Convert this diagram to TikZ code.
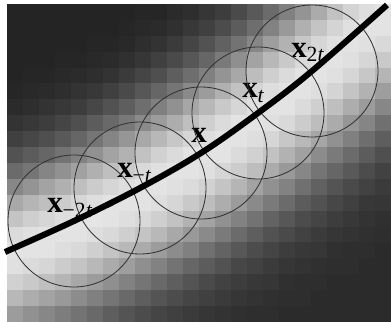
\documentclass[tikz,border=0pt]{standalone}
\usepackage{fontspec}
\setmainfont{Liberation Serif}
\usetikzlibrary{positioning}

\newcommand{\ptlabel}[1]{\textbf{x}\textsubscript{#1}}

\begin{document}
\begin{tikzpicture}[
    x=0.025cm, y=-0.025cm,
    probe/.style={
        draw=black!80, line width=0.6pt
    },
    ridge/.style={
        draw=black, line width=4.3pt, line cap=butt
    },
    lbl/.style={
        inner sep=0pt, anchor=base west, text=black,
        font=\fontsize{22}{24}\selectfont
    }
]
\useasboundingbox (0,0) rectangle (391,322);

% pixelated intensity ridge
\foreach \i in {0,...,23}{
  \foreach \j in {0,...,19}{
    \pgfmathsetmacro\cx{15+16*\i}
    \pgfmathsetmacro\cy{11.95+15.9*\j}
    \pgfmathsetmacro\sl{-0.3484-0.0015214*\cx}
    \pgfmathsetmacro\dd{(\cy-(253.76-0.3484*\cx-(0.0007607*\cx)*\cx))/sqrt(1+\sl*\sl)-5}
    \pgfmathsetmacro\g{\dd<0 ? 0.14+0.76*exp(-0.5*(\dd/55)^2) : 0.17+0.73*exp(-0.5*(\dd/57)^2)}
    \pgfmathtruncatemacro\pct{100*\g}
    \fill[white!\pct!black] (7+16*\i,4+15.9*\j) rectangle ++(16.4,16.3);
  }
}

\coordinate (s)   at (5,252);
\coordinate (pm2) at (74,221);
\coordinate (pm1) at (140,188);
\coordinate (p0)  at (201,153);
\coordinate (p1)  at (258,113);
\coordinate (p2)  at (312,71);
\coordinate (e)   at (387,5);

\node[lbl] (lm2) at (47,213) {\ptlabel{−2\textit{t}}};
\node[lbl] (lm1) at (117,178) {\ptlabel{−\textit{t}}};
\node[lbl] (l0)  at (191,143) {\textbf{x}};
\node[lbl] (l1)  at (242,98)  {\ptlabel{\textit{t}}};
\node[lbl] (l2)  at (291,57)  {\ptlabel{2\textit{t}}};

\foreach \c in {pm2,pm1,p0,p1,p2}
    \draw[probe] (\c) circle[radius=66];

\draw[ridge] plot[smooth, tension=0.6] coordinates {(s) (pm2) (pm1) (p0) (p1) (p2) (e)};
\end{tikzpicture}
\end{document}
